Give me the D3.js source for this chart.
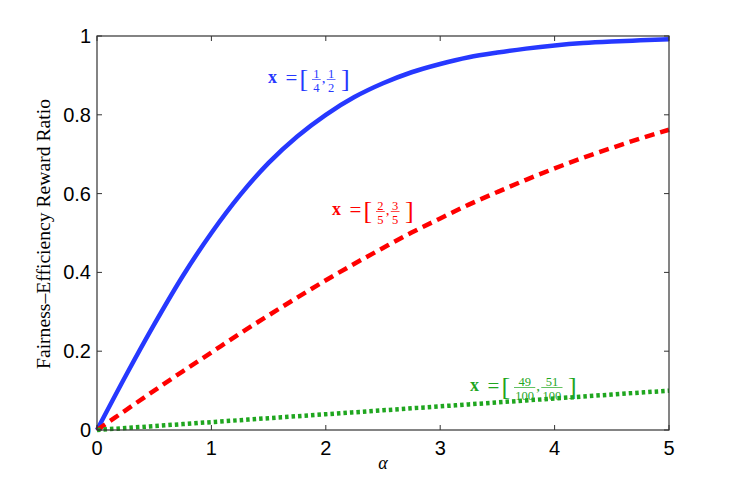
<!DOCTYPE html>
<html><head><meta charset="utf-8">
<script src="https://cdn.jsdelivr.net/npm/d3@7"></script>
<style>body{margin:0;background:#fff}svg{display:block}</style>
</head><body>
<svg id="c" width="739" height="485"></svg>
<script>
const alphas = [0,0.25,0.5,0.75,1,1.25,1.5,1.75,2,2.25,2.5,2.75,3,3.25,3.5,3.75,4,4.25,4.5,4.75,5];
const blueVals = [0,0.137,0.268,0.391,0.50,0.596,0.678,0.745,0.800,0.845,0.880,0.908,0.929,0.946,0.958,0.968,0.976,0.982,0.986,0.989,0.992];
const redVals = [0,0.050,0.100,0.149,0.197,0.245,0.291,0.336,0.380,0.422,0.462,0.501,0.537,0.572,0.604,0.635,0.664,0.691,0.716,0.740,0.762];
const greenVals = [0,0.005,0.010,0.015,0.020,0.025,0.030,0.035,0.040,0.045,0.050,0.055,0.060,0.065,0.070,0.075,0.080,0.085,0.090,0.095,0.0997];
const xTicks = [0,1,2,3,4,5];
const yTicks = [0,0.2,0.4,0.6,0.8,1];
const yTickLabels = ["0","0.2","0.4","0.6","0.8","1"];
const seriesLabels = [
  {num1:"1",den1:"4",num2:"1",den2:"2"},
  {num1:"2",den1:"5",num2:"3",den2:"5"},
  {num1:"49",den1:"100",num2:"51",den2:"100"}
];
const colors = ["#2638ff","#ff0000","#1fa61f"];

const svg = d3.select("#c");
const x = d3.scaleLinear().domain([0,5]).range([97,669]);
const y = d3.scaleLinear().domain([0,1]).range([430,36]);

// series
const series = [blueVals, redVals, greenVals];
const dashes = [null, "10,6", "3.5,3"];
const line = d3.line().x((d,i)=>x(alphas[i])).y(d=>y(d)).curve(d3.curveMonotoneX);
series.forEach((vals,k)=>{
  const p = svg.append("path").datum(vals).attr("d", line)
    .attr("fill","none").attr("stroke",colors[k]).attr("stroke-width",4.5);
  if (dashes[k]) p.attr("stroke-dasharray", dashes[k]);
});

// box
const axColor = "#333";
svg.append("rect").attr("x",97).attr("y",36).attr("width",572).attr("height",394)
  .attr("fill","none").attr("stroke",axColor).attr("stroke-width",1.2);
xTicks.forEach(t=>{
  svg.append("line").attr("x1",x(t)).attr("x2",x(t)).attr("y1",430).attr("y2",425).attr("stroke",axColor);
  svg.append("line").attr("x1",x(t)).attr("x2",x(t)).attr("y1",36).attr("y2",41).attr("stroke",axColor);
  svg.append("text").attr("x",x(t)).attr("y",455).attr("text-anchor","middle")
    .attr("font-family","Liberation Sans, Arial, sans-serif").attr("font-size",20).text(String(t));
});
yTicks.forEach((t,i)=>{
  svg.append("line").attr("x1",97).attr("x2",102).attr("y1",y(t)).attr("y2",y(t)).attr("stroke",axColor);
  svg.append("line").attr("x1",669).attr("x2",664).attr("y1",y(t)).attr("y2",y(t)).attr("stroke",axColor);
  svg.append("text").attr("x",91).attr("y",y(t)+7).attr("text-anchor","end")
    .attr("font-family","Liberation Sans, Arial, sans-serif").attr("font-size",20).text(yTickLabels[i]);
});

// axis labels
svg.append("text").attr("x",383).attr("y",469).attr("text-anchor","middle")
  .attr("font-family","Liberation Serif, Times New Roman, serif").attr("font-style","italic")
  .attr("font-size",18).text("α");
svg.append("text").attr("transform","translate(50,234) rotate(-90)").attr("text-anchor","middle")
  .attr("font-family","Liberation Serif, Times New Roman, serif")
  .attr("font-size",18).attr("textLength",270).attr("lengthAdjust","spacingAndGlyphs")
  .text("Fairness–Efficiency Reward Ratio");

// labels with fractions
function drawLabel(x0, base, color, L){
  const g = svg.append("g").attr("fill",color).attr("font-family","Liberation Serif, Times New Roman, serif");
  function put(s, px, size, dy, bold){
    const t = g.append("text").attr("x",px).attr("y",base+(dy||0)).attr("font-size",size).text(s);
    if (bold) t.attr("font-weight","bold");
    return t.node().getComputedTextLength();
  }
  function frac(n,d,px){
    const fs = 12.5;
    const tn = g.append("text").attr("font-size",fs).text(n);
    const td = g.append("text").attr("font-size",fs).text(d);
    const w = Math.max(tn.node().getComputedTextLength(), td.node().getComputedTextLength()) + 2.5;
    const mid = px + w/2;
    tn.attr("x",mid).attr("y",base-5.5).attr("text-anchor","middle");
    td.attr("x",mid).attr("y",base+9).attr("text-anchor","middle");
    g.append("line").attr("x1",px).attr("x2",px+w).attr("y1",base-3.5).attr("y2",base-3.5)
      .attr("stroke",color).attr("stroke-width",0.7);
    return px + w;
  }
  put("x", x0, 18, 0, true);
  put("=", x0+17.5, 21, 1.5, false);
  put("[", x0+31.4, 26, 3.5, false);
  let e = frac(L.num1, L.den1, x0+44);
  put(",", e+1, 15, 0, false);
  e = frac(L.num2, L.den2, e+6);
  put("]", e+5.5, 26, 3.5, false);
}
drawLabel(268, 83, colors[0], seriesLabels[0]);
drawLabel(332, 215, colors[1], seriesLabels[1]);
drawLabel(470, 391, colors[2], seriesLabels[2]);
</script>
</body></html>
